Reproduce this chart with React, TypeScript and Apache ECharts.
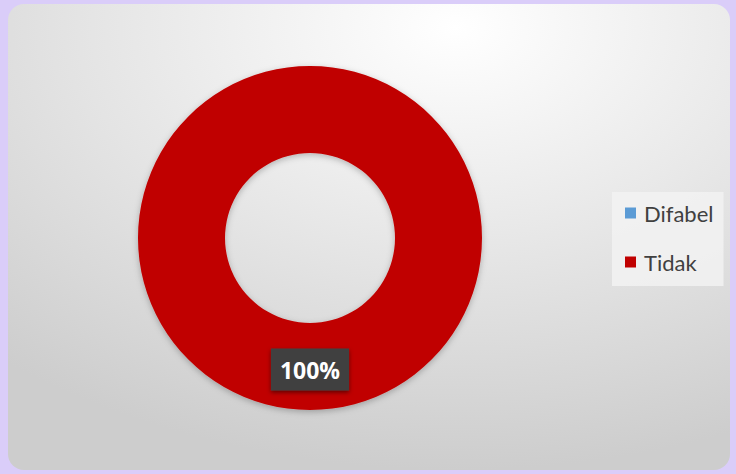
import React, { useEffect, useRef } from "react";
import * as echarts from "echarts";

const categories = ["Difabel", "Tidak"];
const values = [0, 100];
const colors = ["#5b9bd5", "#c00000"];

export default function App() {
  const ref = useRef<HTMLDivElement>(null);
  useEffect(() => {
    const chart = echarts.init(ref.current!, undefined, { renderer: "svg" });
    const total = values.reduce((a, b) => a + b, 0);
    chart.setOption({
      animation: false,
      backgroundColor: "#dacdf9",
      graphic: [
        {
          type: "rect",
          shape: { x: 8, y: 4, width: 722, height: 466, r: 16 },
          style: {
            fill: new echarts.graphic.RadialGradient(0.62, 0.05, 0.95, [
              { offset: 0, color: "#ffffff" },
              { offset: 0.55, color: "#e4e4e4" },
              { offset: 1, color: "#cdcdcd" },
            ]),
          },
          z: -10,
        },
      ],
      legend: {
        orient: "vertical",
        left: 612,
        top: 192,
        padding: [9, 10, 12, 13],
        backgroundColor: "rgba(242,242,242,0.85)",
        itemWidth: 11,
        itemHeight: 11,
        itemGap: 25,
        icon: "rect",
        data: categories,
        textStyle: {
          fontFamily: "Lato",
          fontSize: 22,
          color: "#404040",
          lineHeight: 24,
          padding: [0, 0, 0, 3],
        },
      },
      series: [
        {
          type: "pie",
          center: [310, 238],
          radius: [85, 172],
          startAngle: 90,
          avoidLabelOverlap: false,
          itemStyle: {
            shadowBlur: 6,
            shadowColor: "rgba(0,0,0,0.25)",
            shadowOffsetY: 2,
          },
          label: {
            position: "inside",
            formatter: (p: any) => Math.round((p.value / total) * 100) + "%",
            color: "#ffffff",
            fontFamily: "Open Sans",
            fontWeight: "bold",
            fontSize: 23,
            lineHeight: 26,
            backgroundColor: "#404040",
            padding: [8, 9, 8, 9],
            shadowBlur: 4,
            shadowColor: "rgba(0,0,0,0.5)",
            shadowOffsetY: 2,
          },
          labelLine: { show: false },
          data: categories.map((c, i) => ({
            name: c,
            value: values[i],
            itemStyle: { color: colors[i] },
            label: { show: values[i] > 0 },
          })),
        },
      ],
    });
    return () => chart.dispose();
  }, []);
  return (
    <div
      ref={ref}
      style={{ position: "fixed", left: 0, top: 0, width: 736, height: 474 }}
    />
  );
}
